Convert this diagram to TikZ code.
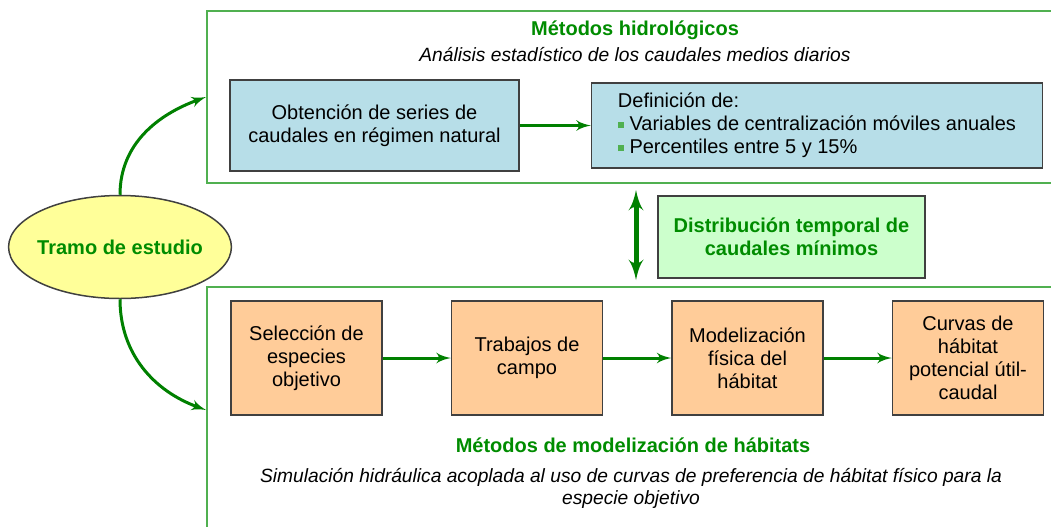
\documentclass[tikz,border=0pt]{standalone}
\usepackage{fontspec}
\setmainfont{Liberation Sans}
\usepackage{tikz}
\usetikzlibrary{arrows,positioning,shapes.geometric}

\definecolor{verde}{RGB}{0,128,0}
\definecolor{verdetexto}{RGB}{0,140,0}
\definecolor{verdemarco}{RGB}{80,176,80}
\definecolor{azul}{RGB}{183,222,232}
\definecolor{naranja}{RGB}{255,204,153}
\definecolor{verdeclaro}{RGB}{204,255,204}
\definecolor{amarillo}{RGB}{255,255,153}
\definecolor{borde}{RGB}{64,64,64}

\newcommand{\vineta}{\textcolor{verdemarco}{\rule[0.25ex]{0.3em}{0.3em}}\ }

\begin{document}
\begin{tikzpicture}
	[x=0.5pt,y=-0.5pt,->,>=latex',node distance=34pt,
		font=\fontsize{10}{11.5}\selectfont,
		marco/.style={draw=verdemarco,line width=1pt,minimum width=429pt,inner sep=0pt},
		caja/.style={draw=borde,line width=0.75pt,align=center,inner sep=2pt},
		azulcaja/.style={caja,fill=azul},
		naranjacaja/.style={caja,fill=naranja,minimum width=75.5pt,minimum height=57pt},
		flecha/.style={color=verde,line width=1.5pt},
		titulo/.style={text=verdetexto,font=\bfseries\fontsize{10}{11.5}\selectfont},
		nota/.style={align=center,font=\itshape\fontsize{9.6}{11}\selectfont}]

	\useasboundingbox (0,0) rectangle (1051,526);
	\clip (0,0) rectangle (1051,526);

	% marcos
	\node[marco,minimum height=86pt] (hidro) at (636,97) {};
	\node[marco,minimum height=123pt] (modhab) at (636,410) {};

	% metodos hidrologicos
	\node[titulo] (tithidro) at (635,30) {Métodos hidrológicos};
	\node[nota] (notahidro) at (635,55) {Análisis estadístico de los caudales medios diarios};
	\node[azulcaja,minimum width=144.5pt,minimum height=45.5pt] (series) at (374.5,125.5)
		{Obtención de series de\\caudales en régimen natural};
	\node[azulcaja,minimum width=225.5pt,minimum height=42.5pt,align=left,inner xsep=4pt]
		(definicion) [right=35.5pt of series]
		{Definición de:\\\vineta Variables de centralización móviles anuales\\\vineta Percentiles entre 5 y 15\%};

	% tramo y distribucion
	\node[ellipse,draw=borde,line width=0.75pt,fill=amarillo,minimum width=111pt,minimum height=51.5pt,
		inner xsep=-2pt,titulo] (tramo) at (120,247) {Tramo de estudio};
	\node[caja,fill=verdeclaro,minimum width=133.5pt,minimum height=41pt,titulo,align=center]
		(distrib) at (791.5,237) {Distribución temporal de\\caudales mínimos};

	% metodos de modelizacion de habitats
	\node[naranjacaja] (seleccion) at (306.5,358) {Selección de\\especies\\objetivo};
	\node[naranjacaja] (trabajos) [right=of seleccion] {Trabajos de\\campo};
	\node[naranjacaja] (fisica) [right=of trabajos] {Modelización\\física del\\hábitat};
	\node[naranjacaja] (curvas) [right=of fisica] {Curvas de\\hábitat\\potencial útil-\\caudal};
	\node[titulo] (titmodhab) at (633,445) {Métodos de modelización de hábitats};
	\node[nota] (notamodhab) at (631,488)
		{Simulación hidráulica acoplada al uso de curvas de preferencia de hábitat físico para la\\especie objetivo};

	\path[flecha]
	(tramo) edge [out=90,in=200]  (hidro.west)
	        edge [out=270,in=160] (modhab.west)
	(series) edge (definicion)
	(seleccion) edge (trabajos)
	(trabajos) edge (fisica)
	(fisica) edge (curvas)
	;

	\draw[<->,color=verde,line width=2.5pt,shorten >=3pt,shorten <=3pt] (hidro.south) -- (modhab.north);

\end{tikzpicture}
\end{document}
